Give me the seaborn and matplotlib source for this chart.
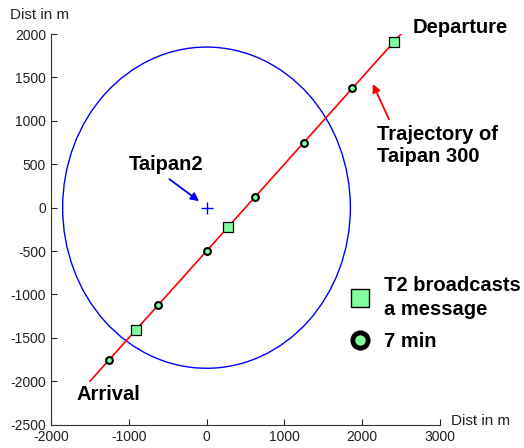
import matplotlib
matplotlib.use("Agg")
import matplotlib.pyplot as plt
import pandas as pd
import seaborn as sns
from matplotlib.patches import Circle
from matplotlib.lines import Line2D

sns.set_style("ticks")
plt.rcParams["font.family"] = ["Liberation Sans", "DejaVu Sans"]
plt.rcParams["axes.unicode_minus"] = False

# receiver (Taipan2) and its range
rx_x, rx_y = 0, 0
rx_radius = 1850

# trajectory of Taipan 300
traj_x = [-1500, 2500]
traj_y = [-2000, 2000]

# positions every 7 min
min7_x = [-1250, -625, 0, 625, 1250, 1875]
min7_y = [-1750, -1125, -500, 125, 750, 1375]

# positions where T2 broadcasts a message
msg_x = [-905, 280, 2410]
msg_y = [-1410, -225, 1910]

xticks = [-2000, -1000, 0, 1000, 2000, 3000]
yticks = [-2500, -2000, -1500, -1000, -500, 0, 500, 1000, 1500, 2000]

green = "#80ff9f"

fig = plt.figure(figsize=(5.24, 4.48), dpi=100)
ax = fig.add_axes([0.0973, 0.052, 0.742, 0.872])

ax.add_patch(Circle((rx_x, rx_y), rx_radius, fill=False, color="blue", lw=1.0))
ax.plot([rx_x], [rx_y], marker="+", color="blue", ms=8, mew=1.0, ls="none")

traj = pd.DataFrame({"x": traj_x, "y": traj_y})
sns.lineplot(data=traj, x="x", y="y", color="red", lw=1.2, sort=False, ax=ax)

pts = pd.DataFrame({"x": min7_x, "y": min7_y})
sns.scatterplot(data=pts, x="x", y="y", marker="o", s=24, color=green,
                edgecolor="black", linewidth=1.5, zorder=5, ax=ax)
msg = pd.DataFrame({"x": msg_x, "y": msg_y})
sns.scatterplot(data=msg, x="x", y="y", marker="s", s=45, color=green,
                edgecolor="black", linewidth=0.9, zorder=6, ax=ax)

ax.set_xlim(-2000, 3000)
ax.set_ylim(-2500, 2000)
ax.set_xticks(xticks)
ax.set_yticks(yticks)
ax.tick_params(direction="in", length=4, labelsize=10, labelcolor="#222222", width=0.8)
sns.despine(ax=ax)
ax.set_xlabel("")
ax.set_ylabel("")
for s in ["left", "bottom"]:
    ax.spines[s].set_color("#333333")
    ax.spines[s].set_linewidth(0.8)

fig.text(10 / 524, 1 - 15 / 448, "Dist in m", fontsize=11, color="#222222", va="center")
fig.text(451 / 524, 1 - 421 / 448, "Dist in m", fontsize=11, color="#222222", va="center")

bold = dict(fontsize=14.5, fontweight="bold", color="black")
ax.text(2654, 2074, "Departure", va="center", ha="left", **bold)
ax.text(-1677, -2154, "Arrival", va="center", ha="left", **bold)
ax.annotate("Taipan2", xy=(-95, 75), xytext=(-516, 495), ha="center", va="center",
            arrowprops=dict(arrowstyle="-|>", color="blue", lw=1.3, mutation_scale=12,
                            shrinkA=2, shrinkB=0, relpos=(0.45, 0.0)), **bold)
ax.annotate("Trajectory of\nTaipan 300", xy=(2138, 1425), xytext=(2194, 714),
            ha="left", va="center", linespacing=1.22,
            arrowprops=dict(arrowstyle="-|>", color="red", lw=1.3, mutation_scale=12,
                            shrinkA=2, shrinkB=0, relpos=(0.12, 1.0)), **bold)

handles = [
    Line2D([], [], marker="s", ls="none", ms=13, mfc=green, mec="black", mew=1.0),
    Line2D([], [], marker="o", ls="none", ms=11, mfc=green, mec="black", mew=3.5),
]
leg = ax.legend(handles, ["T2 broadcasts\na message", "7 min"], loc="center left",
                bbox_to_anchor=(0.716, 0.285), frameon=False, handletextpad=0.6,
                handlelength=1.2, labelspacing=0.65, labelcolor="black",
                prop=dict(weight="bold", size=14.5))
leg.get_texts()[0].set_linespacing(1.35)

fig.savefig("out.png", dpi=100)
